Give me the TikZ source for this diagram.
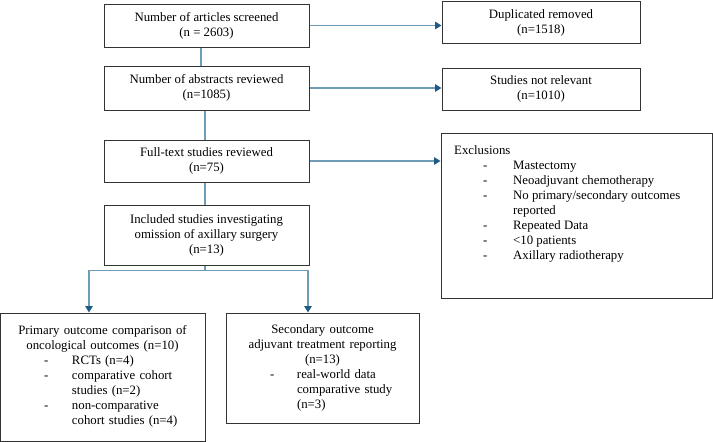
\documentclass[tikz,border=0pt]{standalone}
\usepackage{fontspec}
\setmainfont{Liberation Serif}
\usetikzlibrary{arrows.meta}
\definecolor{lineblue}{HTML}{6E9BB5}
\definecolor{headblue}{HTML}{1F5A85}
\definecolor{boxgray}{HTML}{333333}
\begin{document}
\begin{tikzpicture}[x=1pt,y=-1pt,
  every node/.style={font=\fontsize{12.8}{15}\selectfont},
  box/.style={draw=boxgray,line width=1pt,rectangle,inner sep=0pt,align=center},
  txt/.style={inner sep=0pt},
  conn/.style={draw=lineblue,line width=1.3pt},
  arr/.style={conn,-{Triangle[length=6.5pt,width=7.5pt,color=headblue]}}]
\useasboundingbox (0,0) rectangle (713,442);
% main column
\node[box,minimum width=205pt,minimum height=43pt] (b1) at (206.5,25.5) {Number of articles screened\\(n = 2603)};
\node[box,minimum width=205pt,minimum height=44pt] (b2) at (206.5,88) {Number of abstracts reviewed\\(n=1085)};
\node[box,minimum width=205pt,minimum height=42pt] (b3) at (206.5,161) {Full-text studies reviewed\\(n=75)};
\node[box,minimum width=205pt,minimum height=60pt] (b4) at (206.5,235) {Included studies investigating\\omission of axillary surgery\\(n=13)};
% right column
\node[box,minimum width=198pt,minimum height=42pt] (dup) at (541,22.5) {Duplicated removed\\(n=1518)};
\node[box,minimum width=198pt,minimum height=42pt] (nr) at (541,89) {Studies not relevant\\(n=1010)};
\node[box,minimum width=271pt,minimum height=165pt] (excl) at (576.5,215.5) {};
\node[txt,anchor=north west,align=left] (excltxt) at (454,145.5) {Exclusions\\
\makebox[59pt][l]{\hspace*{29pt}-}Mastectomy\\
\makebox[59pt][l]{\hspace*{29pt}-}Neoadjuvant chemotherapy\\
\makebox[59pt][l]{\hspace*{29pt}-}No primary/secondary outcomes\\
\hspace*{59pt}reported\\
\makebox[59pt][l]{\hspace*{29pt}-}Repeated Data\\
\makebox[59pt][l]{\hspace*{29pt}-}<10 patients\\
\makebox[59pt][l]{\hspace*{29pt}-}Axillary radiotherapy};
% bottom boxes
\node[box,minimum width=205pt,minimum height=128pt] (bl) at (102.5,377) {};
\node[txt,anchor=north,text width=185pt,align=center] (bltxt) at (102.5,325) {Primary outcome comparison of\\
oncological outcomes (n=10)\\
\makebox[185pt][l]{\makebox[62pt][l]{\hspace*{34pt}-}RCTs (n=4)}\\
\makebox[185pt][l]{\makebox[62pt][l]{\hspace*{34pt}-}comparative cohort}\\
\makebox[185pt][l]{\hspace*{62pt}studies (n=2)}\\
\makebox[185pt][l]{\makebox[62pt][l]{\hspace*{34pt}-}non-comparative}\\
\makebox[185pt][l]{\hspace*{62pt}cohort studies (n=4)}};
\node[box,minimum width=193pt,minimum height=110pt] (br) at (322.5,368) {};
\node[txt,anchor=north,text width=173pt,align=center] (brtxt) at (322.5,324) {Secondary outcome\\
adjuvant treatment reporting\\
(n=13)\\
\makebox[173pt][l]{\makebox[61pt][l]{\hspace*{34pt}-}real-world data}\\
\makebox[173pt][l]{\hspace*{61pt}comparative study}\\
\makebox[173pt][l]{\hspace*{61pt}(n=3)}};
% connectors
\draw[conn] ([xshift=-5.5pt]b1.south) -- ([xshift=-5.5pt]b2.north);
\draw[conn] ([xshift=-1.5pt]b2.south) -- ([xshift=-1.5pt]b3.north);
\draw[conn] ([xshift=-1.5pt]b3.south) -- ([xshift=-1.5pt]b4.north);
\draw[conn] ([xshift=-1.5pt]b4.south) -- ++(0,5) coordinate (split);
\draw[arr] (split) -| ([xshift=-13.5pt]bl.north);
\draw[arr] (split) -| ([xshift=-14.5pt]br.north);
\draw[arr] (b1.east) -- (b1.east -| dup.west);
\draw[arr] (b2.east) -- (b2.east -| nr.west);
\draw[arr] (b3.east) -- (b3.east -| excl.west);
\end{tikzpicture}
\end{document}
